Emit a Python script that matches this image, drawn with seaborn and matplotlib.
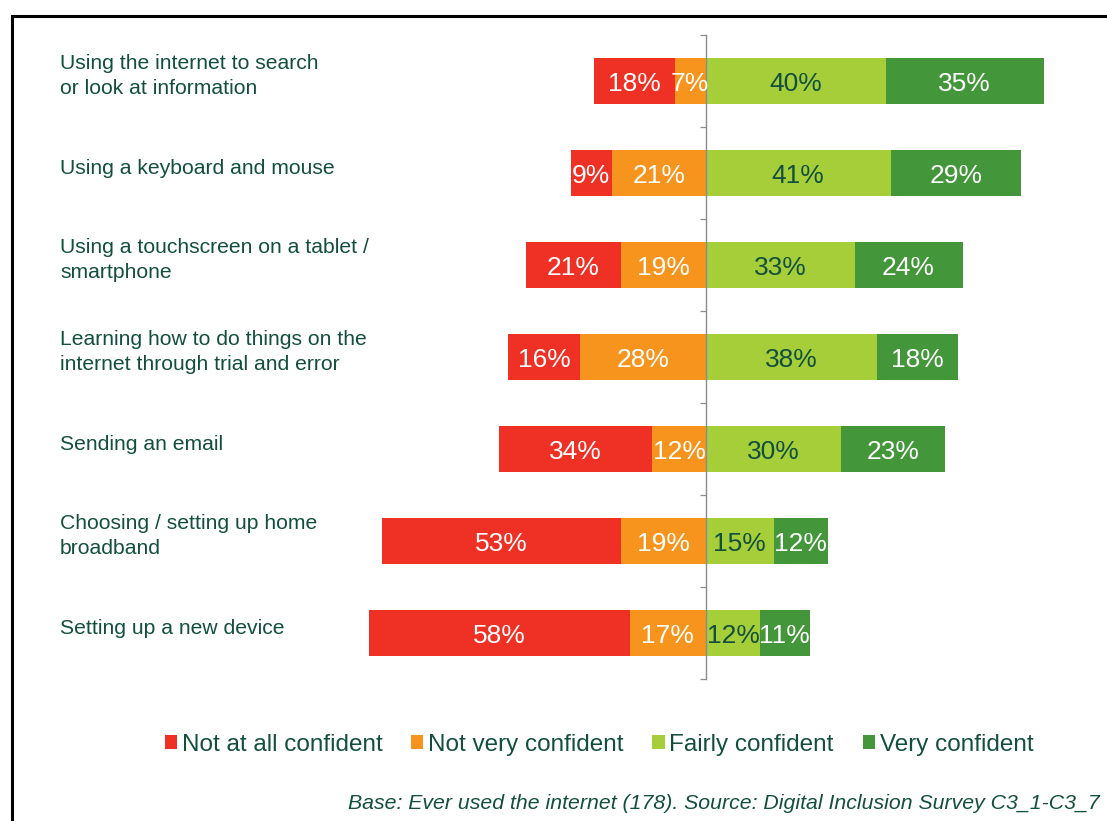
import numpy as np
import pandas as pd
import matplotlib
matplotlib.use("Agg")
import matplotlib.pyplot as plt
import matplotlib.transforms as mtransforms
from matplotlib.patches import Patch, Rectangle
import seaborn as sns

# Survey items, top to bottom
categories = [
    "Using the internet to search\nor look at information",
    "Using a keyboard and mouse",
    "Using a touchscreen on a tablet /\nsmartphone",
    "Learning how to do things on the\ninternet through trial and error",
    "Sending an email",
    "Choosing / setting up home\nbroadband",
    "Setting up a new device",
]

# Share of respondents (%) per confidence level
not_at_all = [18, 9, 21, 16, 34, 53, 58]
not_very = [7, 21, 19, 28, 12, 19, 17]
fairly = [40, 41, 33, 38, 30, 15, 12]
very = [35, 29, 24, 18, 23, 12, 11]

series_names = ["Not at all confident", "Not very confident",
                "Fairly confident", "Very confident"]

RED = "#EE3124"
ORANGE = "#F7941E"
LIGHT_GREEN = "#A6CE39"
DARK_GREEN = "#43963A"
TEXT = "#124F3E"
AXIS_GREY = "#8C8C8C"

sns.set_style("white")
plt.rcParams["font.family"] = ["Liberation Sans", "DejaVu Sans"]

df = pd.DataFrame({
    "item": categories,
    "not_at_all": not_at_all,
    "not_very": not_very,
    "fairly": fairly,
    "very": very,
})
# Diverging stack: negative side grows left of zero, positive side right of it
df["neg_outer"] = -(df["not_at_all"] + df["not_very"])
df["neg_inner"] = -df["not_very"]
df["pos_outer"] = df["fairly"] + df["very"]
df["pos_inner"] = df["fairly"]

W, H, DPI = 1107, 821, 100
fig = plt.figure(figsize=(W / DPI, H / DPI), dpi=DPI)
ax = fig.add_axes([256 / W, 142 / H, 810 / W, 644 / H])

bar_kw = dict(data=df, y="item", orient="h", width=0.51, saturation=1,
              errorbar=None, linewidth=0, ax=ax)
sns.barplot(x="neg_outer", color=RED, **bar_kw)
sns.barplot(x="neg_inner", color=ORANGE, **bar_kw)
sns.barplot(x="pos_outer", color=DARK_GREEN, **bar_kw)
sns.barplot(x="pos_inner", color=LIGHT_GREEN, **bar_kw)

n = len(categories)
ax.set_xlim(-100, 80)
ax.set_ylim(n - 0.5, -0.5)
ax.set_xlabel("")
ax.set_ylabel("")
ax.set_xticks([])
ax.set_yticks(np.arange(n + 1) - 0.5)
ax.set_yticklabels([])
ax.tick_params(axis="y", direction="out", length=4.3, width=0.9,
               color=AXIS_GREY, left=True)
for side in ("top", "right", "bottom"):
    ax.spines[side].set_visible(False)
ax.spines["left"].set_position(("data", 0))
ax.spines["left"].set_color(AXIS_GREY)
ax.spines["left"].set_linewidth(1.0)

# Percentage labels centred in every segment
label_kw = dict(ha="center", va="center_baseline", fontsize=19)
for i, row in df.iterrows():
    ax.text(-(row["not_very"] + row["not_at_all"] / 2), i,
            f"{row['not_at_all']}%", color="white", **label_kw)
    ax.text(-row["not_very"] / 2, i, f"{row['not_very']}%",
            color="white", **label_kw)
    ax.text(row["fairly"] / 2, i, f"{row['fairly']}%",
            color=TEXT, **label_kw)
    ax.text(row["fairly"] + row["very"] / 2, i, f"{row['very']}%",
            color="white", **label_kw)

# Item names, left aligned near the figure edge
name_tf = mtransforms.blended_transform_factory(fig.transFigure, ax.transData)
name_tf = name_tf + mtransforms.ScaledTranslation(0, 0.05, fig.dpi_scale_trans)
for i, name in enumerate(categories):
    ax.text(60 / W, i, name, transform=name_tf, ha="left", va="center",
            fontsize=15.2, color=TEXT, linespacing=1.42)

handles = [Patch(facecolor=c, edgecolor="none")
           for c in (RED, ORANGE, LIGHT_GREEN, DARK_GREEN)]
fig.legend(handles, series_names, loc="center",
           bbox_to_anchor=(599 / W, 76 / H), ncol=4, frameon=False,
           fontsize=17.5, handlelength=0.5, handleheight=0.5,
           handletextpad=0.2, columnspacing=1.18, labelcolor=TEXT,
           borderpad=0, borderaxespad=0)

fig.text(1100 / W, 12 / H,
         "Base: Ever used the internet (178). Source: Digital Inclusion Survey C3_1-C3_7",
         ha="right", va="baseline", fontsize=15.3, style="italic", color=TEXT)

# Frame along the top and left edges
fig.add_artist(Rectangle((11.5 / W, -0.5), 2, 0.5 + (H - 16.5) / H,
                         transform=fig.transFigure, fill=False,
                         edgecolor="black", linewidth=2.2, clip_on=False))

fig.savefig("out.png", dpi=DPI)
